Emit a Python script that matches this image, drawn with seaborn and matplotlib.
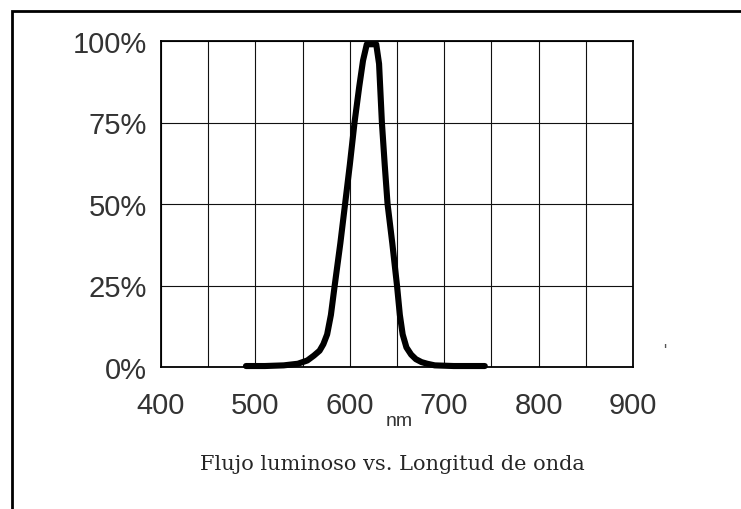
import matplotlib
matplotlib.use("Agg")
import matplotlib.pyplot as plt
import matplotlib.ticker as mticker
from matplotlib.patches import Rectangle
import pandas as pd
import seaborn as sns

# espectro (nm, % flujo relativo)
wavelength_nm = [490, 510, 530, 545, 555, 562, 568, 572, 576, 580, 584, 590,
                 595, 600, 605, 610, 614, 618, 623, 628, 631, 634, 637, 640,
                 645, 650, 653, 656, 660, 665, 670, 676, 682, 690, 710, 743]
flux_pct = [0.3, 0.3, 0.5, 1, 2, 3.5, 5, 7, 10, 16, 25, 38,
            50, 62, 75, 86, 94, 99, 99, 99, 93, 75, 62, 50,
            38, 25, 16, 10, 6, 3.8, 2.4, 1.5, 1, 0.5, 0.3, 0.3]

x_ticks = [400, 500, 600, 700, 800, 900]
y_ticks = [0, 25, 50, 75, 100]
y_labels = ["0%", "25%", "50%", "75%", "100%"]
title = "Flujo luminoso vs. Longitud de onda"

df = pd.DataFrame({"nm": wavelength_nm, "flujo": flux_pct})

sns.set_style("white")
plt.rcParams["font.family"] = ["Liberation Sans", "DejaVu Sans"]

fig = plt.figure(figsize=(7.41, 5.10), dpi=100)
ax = fig.add_axes([161 / 741, 1 - 368 / 510, 472 / 741, 326 / 510])

sns.lineplot(data=df, x="nm", y="flujo", ax=ax, color="black",
             linewidth=4.4, solid_joinstyle="round")
for ln in ax.get_lines():
    ln.set_clip_on(False)
    ln.set_zorder(5)

ax.set_xlim(400, 900)
ax.set_ylim(0, 100)
ax.xaxis.set_major_locator(mticker.FixedLocator(x_ticks))
ax.xaxis.set_minor_locator(mticker.MultipleLocator(50))
ax.set_yticks(y_ticks)
ax.set_yticklabels(y_labels)
ax.grid(True, which="both", axis="x", color="#111111", linewidth=0.8)
ax.grid(True, which="major", axis="y", color="#111111", linewidth=0.8)
ax.set_axisbelow(True)
for s in ax.spines.values():
    s.set_color("black")
    s.set_linewidth(1.3)
ax.tick_params(which="both", length=0, labelsize=21, colors="#333333")
ax.tick_params(axis="x", pad=17)
ax.tick_params(axis="y", pad=10)
ax.set_xlabel("")
ax.set_ylabel("")

fig.text(399 / 741, 1 - 422 / 510, "nm", fontsize=14, ha="center", va="center",
         color="#333333")
fig.text(392 / 741, 1 - 465 / 510, title, fontsize=15, ha="center", va="center",
         family=["DejaVu Serif"])
fig.text(665 / 741, 1 - 352 / 510, "'", fontsize=12, ha="center", va="center",
         color="#555555")

# marco exterior
fig.patches.append(Rectangle((12 / 741, -0.1), 1.1, 1 - 12 / 510 + 0.1,
                             transform=fig.transFigure, fill=False,
                             edgecolor="black", linewidth=2.0))

fig.savefig("out.png", dpi=100)
